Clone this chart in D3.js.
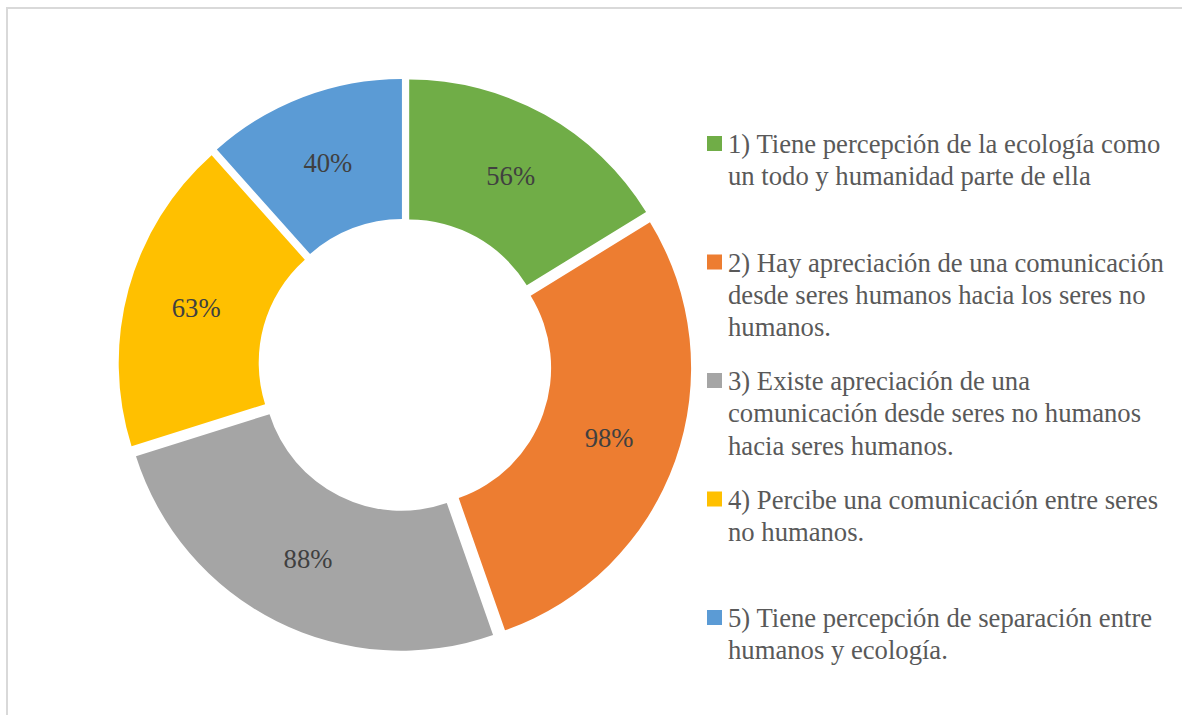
<!DOCTYPE html>
<html>
<head>
<meta charset="utf-8">
<script src="https://cdn.jsdelivr.net/npm/d3@7"></script>
<style>
  html, body { margin: 0; padding: 0; background: #fff; }
  svg { display: block; }
</style>
</head>
<body>
<svg id="chart" width="1182" height="715"></svg>
<script>
const categories = [
  "1) Tiene percepción de la ecología como un todo y humanidad parte de ella",
  "2) Hay apreciación de una comunicación desde seres humanos hacia los seres no humanos.",
  "3) Existe apreciación de una comunicación desde seres no humanos hacia seres humanos.",
  "4) Percibe una comunicación entre seres no humanos.",
  "5) Tiene percepción de separación entre humanos y ecología."
];
const values = [56, 98, 88, 63, 40];
const valueLabels = ["56%", "98%", "88%", "63%", "40%"];
const colors = ["#70AD47", "#ED7D31", "#A5A5A5", "#FFC000", "#5B9BD5"];

const svg = d3.select("#chart");
const W = 1182, H = 715;
const fontFamily = "'Liberation Serif', 'Times New Roman', serif";
const fontSize = 26.67;

// chart border
svg.append("rect")
  .attr("x", 7).attr("y", 8)
  .attr("width", W + 20).attr("height", H + 20)
  .attr("fill", "#fff")
  .attr("stroke", "#d9d9d9").attr("stroke-width", 2);

const cx = 405, cy = 365;
const outerR = 278, innerR = 138, explode = 8.6;

const data = categories.map((c, i) => ({ name: c, value: values[i], label: valueLabels[i], color: colors[i] }));

const pie = d3.pie().value(d => d.value).sort(null);
const arcs = pie(data);
const arc = d3.arc().innerRadius(innerR).outerRadius(outerR);

const g = svg.append("g").attr("transform", `translate(${cx},${cy})`);

const slices = g.selectAll("g.slice").data(arcs).join("g")
  .attr("class", "slice")
  .attr("transform", d => {
    const a = (d.startAngle + d.endAngle) / 2;
    return `translate(${explode * Math.sin(a)},${-explode * Math.cos(a)})`;
  });

slices.append("path")
  .attr("d", arc)
  .attr("fill", d => d.data.color);

slices.append("text")
  .attr("transform", d => `translate(${arc.centroid(d)})`)
  .attr("text-anchor", "middle")
  .attr("dy", "0.35em")
  .attr("font-family", fontFamily)
  .attr("font-size", fontSize)
  .attr("fill", "#404040")
  .text(d => d.data.label);

// legend
const legendX = 707, textX = 728, firstBaseline = 153, slot = 118.5, lineH = 32.3, maxW = 440, sq = 15;
const legend = svg.append("g");

data.forEach((d, i) => {
  const base = firstBaseline + i * slot;
  const t = legend.append("text")
    .attr("x", textX).attr("y", base)
    .attr("font-family", fontFamily)
    .attr("font-size", fontSize)
    .attr("fill", "#595959");
  const words = d.name.split(" ");
  let line = [];
  let ts = t.append("tspan").attr("x", textX).attr("y", base);
  let ln = 0;
  words.forEach(w => {
    line.push(w);
    ts.text(line.join(" "));
    if (ts.node().getComputedTextLength() > maxW && line.length > 1) {
      line.pop();
      ts.text(line.join(" "));
      line = [w];
      ln++;
      ts = t.append("tspan").attr("x", textX).attr("y", base + ln * lineH).text(w);
    }
  });
  legend.append("rect")
    .attr("x", legendX).attr("y", base - 17)
    .attr("width", sq).attr("height", sq)
    .attr("fill", d.color);
});
</script>
</body>
</html>
